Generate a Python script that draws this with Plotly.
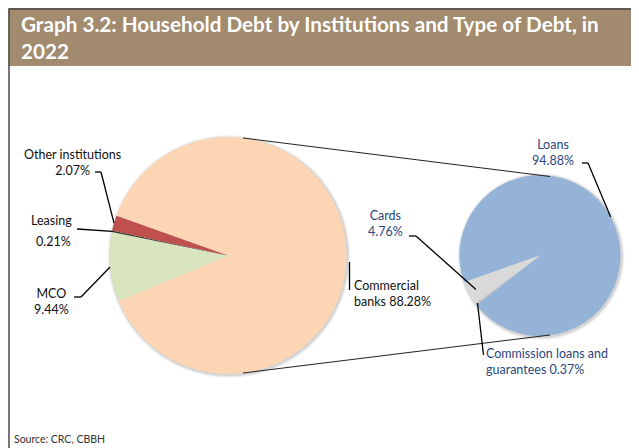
import math
import plotly.graph_objects as go

# page body has an 8px margin: figure drawn from (8, 8) of the window
OFF = 8
W, H = 639 - OFF, 448 - OFF

# ---- data ----
inst_labels = ["Commercial banks", "MCO", "Leasing", "Other institutions"]
inst_values = [88.28, 9.44, 0.21, 2.07]
inst_colors = ["#fcd5b5", "#d7e4bd", "#3a3a3a", "#c0504d"]

type_labels = ["Loans", "Commission loans and guarantees", "Cards"]
type_values = [94.88, 0.37, 4.76]
type_colors = ["#95b3d7", "#c4c4c4", "#d9d9d9"]

title_text = "Graph 3.2: Household Debt by Institutions and Type of Debt, in<br>2022"
source_text = "Source: CRC, CBBH"

# ---- geometry (window pixels) ----
L_CX, L_CY, L_R = 228, 255.5, 118.5
R_CX, R_CY, R_R = 540, 255.5, 80.5
L_START = 160.4   # math angle where first slice starts (clockwise)
R_START = 199.4


def px(x):
    return (x - OFF) / W


def py(y):
    return 1 - (y - OFF) / H


def mid_angles(values, start):
    tot = sum(values)
    out = []
    a = start
    for v in values:
        span = v / tot * 360
        out.append(a - span / 2)
        a -= span
    return out


def edge(cx, cy, r, ang):
    return cx + r * math.cos(math.radians(ang)), cy - r * math.sin(math.radians(ang))


fig = go.Figure()

fig.add_trace(go.Pie(
    labels=inst_labels, values=inst_values, sort=False, direction="clockwise",
    rotation=90 - L_START, textinfo="none", hoverinfo="label+percent",
    marker=dict(colors=inst_colors, line=dict(width=0)),
    domain=dict(x=[px(L_CX - L_R), px(L_CX + L_R)], y=[py(L_CY + L_R), py(L_CY - L_R)]),
    showlegend=False,
))
fig.add_trace(go.Pie(
    labels=type_labels, values=type_values, sort=False, direction="clockwise",
    rotation=90 - R_START, textinfo="none", hoverinfo="label+percent",
    marker=dict(colors=type_colors, line=dict(width=0)),
    domain=dict(x=[px(R_CX - R_R), px(R_CX + R_R)], y=[py(R_CY + R_R), py(R_CY - R_R)]),
    showlegend=False,
))

shapes = []
# title bar and frame
shapes.append(dict(type="rect", xref="paper", yref="paper", x0=px(8.5), x1=1.01, y0=py(66), y1=1.01,
                   fillcolor="#a28b6f", line=dict(width=0), layer="below"))
shapes.append(dict(type="line", xref="paper", yref="paper", x0=px(8.5), x1=1.01, y0=py(9), y1=py(9),
                   line=dict(color="#4a4a4a", width=1.5)))
shapes.append(dict(type="line", xref="paper", yref="paper", x0=px(9), x1=px(9), y0=py(9), y1=-0.01,
                   line=dict(color="#4a4a4a", width=1.5)))

# soft shadows
for (cx, cy, r) in [(L_CX, L_CY, L_R), (R_CX, R_CY, R_R)]:
    for d, a in [(3, 0.04), (2, 0.06), (1, 0.08)]:
        shapes.append(dict(type="circle", xref="paper", yref="paper",
                           x0=px(cx - r - d + 1), x1=px(cx + r + d + 1),
                           y0=py(cy + r + d + 1), y1=py(cy - r - d + 1),
                           fillcolor=f"rgba(0,0,0,{a})", line=dict(width=0), layer="below"))


def polyline(points, color="#000000", width=1.3):
    for (x0, y0), (x1, y1) in zip(points[:-1], points[1:]):
        shapes.append(dict(type="line", xref="paper", yref="paper",
                           x0=px(x0), y0=py(y0), x1=px(x1), y1=py(y1),
                           line=dict(color=color, width=width)))


# connector lines between pies
polyline([(243, 138), (550, 176.5)], color="#222222", width=1)
polyline([(243, 373), (550, 335)], color="#222222", width=1)

lm = mid_angles(inst_values, L_START)
rm = mid_angles(type_values, R_START)

# left leaders
polyline([(95, 172), (101, 172), edge(L_CX, L_CY, L_R, lm[3])])
polyline([(77, 229), edge(L_CX, L_CY, L_R - 0.5, lm[2])])
polyline([(74, 297), (81, 297), edge(L_CX, L_CY, L_R, lm[1])])
polyline([(349.5, 262), (349.5, 290)])
# right leaders
polyline([(582, 163), (588, 163), edge(R_CX, R_CY, R_R, rm[0])])
polyline([(409, 236), (416, 236), edge(R_CX, R_CY, R_R - 8, rm[2])])
polyline([edge(R_CX, R_CY, R_R - 2, rm[1]), (483.5, 355)])

fig.update_layout(shapes=shapes)

FONT = "Lato"
BLUE = "#2b4680"
annots = []


def ann(text, x, y, xanchor="center", yanchor="middle", size=12.5, color="#111111", align="center"):
    annots.append(dict(text=text, x=px(x), y=py(y), xref="paper", yref="paper",
                       xanchor=xanchor, yanchor=yanchor, showarrow=False, align=align,
                       font=dict(family=FONT, size=size, color=color)))


ann(f"{inst_labels[3]}<br>{inst_values[3]:.2f}%", 72, 162)
ann(inst_labels[2], 51, 220)
ann(f"{inst_values[2]:.2f}%", 53, 241)
ann(f"{inst_labels[1]}<br>{inst_values[1]:.2f}%", 51, 301)
ann(f"Commercial<br>banks {inst_values[0]:.2f}%", 352, 293, xanchor="left", align="left")
ann(f"{type_labels[0]}<br>{type_values[0]:.2f}%", 553, 152, color=BLUE)
ann(f"{type_labels[2]}<br>{type_values[2]:.2f}%", 385, 223, color=BLUE)
ann(f"Commission loans and<br>guarantees {type_values[1]:.2f}%", 484, 361, xanchor="left", align="left", color=BLUE)

annots.append(dict(text=f"<b>{title_text}</b>", x=px(19), y=py(38), xref="paper", yref="paper",
                   xanchor="left", yanchor="middle", showarrow=False, align="left",
                   font=dict(family=FONT, size=20.7, color="#ffffff")))
annots.append(dict(text=source_text, x=px(12), y=py(439), xref="paper", yref="paper",
                   xanchor="left", yanchor="middle", showarrow=False, align="left",
                   font=dict(family=FONT, size=10.5, color="#333333")))

fig.update_layout(
    annotations=annots,
    width=W, height=H,
    margin=dict(l=0, r=0, t=0, b=0),
    paper_bgcolor="#ffffff", plot_bgcolor="#ffffff",
    showlegend=False,
)

fig.write_html("out.html")
